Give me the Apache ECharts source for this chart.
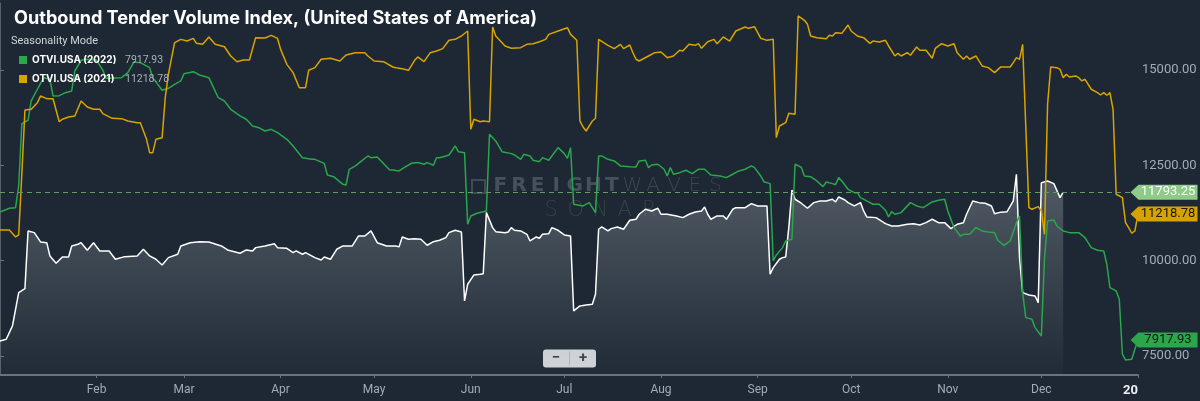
<!DOCTYPE html>
<html><head><meta charset="utf-8">
<script src="https://cdn.jsdelivr.net/npm/echarts@6/dist/echarts.min.js"></script>
<style>html,body{margin:0;padding:0;background:#1d2834;}#c{width:1200px;height:401px;}</style>
</head><body><div id="c"></div>
<script>
// ---- data (x = day of year, 0 = Jan 1; 365 = Jan 1 of next year) ----
const monthTicks = [31, 59, 90, 120, 151, 181, 212, 243, 273, 304, 334, 365];
const monthLabels = ['Feb', 'Mar', 'Apr', 'May', 'Jun', 'Jul', 'Aug', 'Sep', 'Oct', 'Nov', 'Dec', '20'];
const yTicks = [7500, 10000, 12500, 15000];

const nameCurrent = 'OTVI.USA';
const name2022 = 'OTVI.USA (2022)';
const name2021 = 'OTVI.USA (2021)';
const lastCurrent = 11793.25;
const last2022 = 7917.93;
const last2021 = 11218.78;

const current = [[0,7893],[2,7938],[4,8287],[6,9160],[8,9265],[9,10778],[11,10733],[13,10490],[15,10470],[16,10122],[18,9930],[20,10096],[22,10096],[23,10384],[25,10428],[26,10470],[28,10271],[30,10470],[32,10253],[35,10253],[37,10035],[40,10104],[44,10122],[46,10297],[48,10122],[50,10035],[52,9886],[54,10078],[57,10166],[58,10384],[61,10470],[64,10497],[67,10490],[71,10384],[73,10280],[77,10193],[79,10280],[81,10253],[82,10340],[85,10384],[88,10444],[89,10340],[92,10323],[94,10210],[95,10253],[97,10166],[98,10210],[101,10078],[103,10017],[104,10096],[106,10035],[108,10297],[110,10384],[113,10384],[115,10646],[117,10646],[119,10778],[121,10470],[124,10384],[127,10384],[128,10360],[129,10620],[131,10560],[133,10576],[135,10560],[137,10402],[139,10497],[141,10534],[143,10602],[144,10733],[146,10795],[148,10751],[149,8942],[150,9380],[152,9624],[154,9642],[155,9658],[156,11258],[158,10865],[159,10759],[162,10733],[163,10751],[164,10865],[165,10795],[167,10778],[169,10690],[170,10515],[172,10620],[173,10585],[174,10690],[176,10707],[177,10865],[179,10795],[181,10673],[183,10646],[184,8680],[186,8811],[188,8837],[190,8855],[191,9118],[192,10822],[193,10882],[195,10778],[196,10838],[198,10882],[200,10822],[202,11058],[204,11084],[205,11215],[207,11346],[209,11302],[211,11373],[212,11215],[214,11215],[217,11171],[219,11127],[221,11215],[223,11276],[225,11302],[226,11407],[227,11215],[228,11084],[230,11171],[232,11171],[233,11084],[235,11346],[236,11389],[239,11389],[241,11494],[243,11433],[246,11433],[247,9642],[248,9816],[250,10035],[251,10078],[252,10096],[253,10865],[254,11852],[255,11609],[257,11505],[259,11373],[261,11520],[263,11564],[265,11564],[267,11609],[268,11538],[269,11669],[271,11590],[272,11520],[274,11433],[276,11520],[277,11302],[278,11145],[281,11127],[284,10969],[286,10908],[288,10908],[291,10953],[293,10969],[295,10935],[297,10995],[299,11084],[301,10995],[303,10995],[305,10838],[307,10953],[309,10995],[310,11215],[312,11564],[314,11520],[316,11503],[318,11433],[319,11231],[321,11271],[323,11284],[325,11564],[326,12264],[327,10078],[328,9160],[330,9099],[332,9073],[333,8898],[334,12044],[336,12089],[338,12018],[340,11651],[341,11793.25]];

const otvi2022 = [[0,11276],[3,11373],[5,11389],[6,11957],[7,13591],[9,13680],[10,14186],[12,14493],[14,14797],[16,14755],[17,14317],[19,14325],[21,14404],[23,14448],[24,14972],[26,15253],[28,15280],[31,15253],[33,14991],[34,14781],[39,14797],[41,14930],[43,15209],[45,15191],[48,15060],[49,14797],[52,14466],[54,14519],[56,14623],[58,14711],[59,14902],[62,14955],[64,14868],[67,14797],[70,14272],[72,14186],[74,13968],[77,13793],[79,13706],[81,13530],[83,13486],[85,13399],[87,13443],[89,13355],[92,13180],[94,13006],[97,12699],[100,12656],[101,12656],[104,12551],[105,12246],[107,12201],[110,12001],[111,11983],[112,12394],[114,12482],[116,12613],[118,12744],[119,12699],[121,12717],[125,12377],[126,12377],[128,12351],[130,12456],[132,12553],[134,12570],[136,12527],[137,12570],[139,12500],[140,12699],[141,12699],[143,12744],[144,12770],[146,13006],[147,12856],[149,12831],[150,10953],[151,11171],[153,11242],[156,11302],[157,13313],[159,13137],[161,12856],[164,12805],[165,12770],[167,12656],[168,12787],[170,12744],[171,12630],[173,12595],[174,12699],[176,12630],[177,12744],[179,12962],[181,12805],[182,12682],[183,12962],[184,11478],[187,11433],[189,11520],[191,11258],[192,12744],[193,12744],[195,12656],[197,12613],[199,12482],[202,12464],[204,12456],[205,12613],[207,12630],[208,12438],[209,12508],[211,12527],[213,12395],[214,12220],[215,12438],[216,12264],[218,12306],[220,12369],[222,12281],[224,12395],[226,12395],[228,12246],[231,12220],[233,12176],[235,12264],[237,12351],[239,12395],[241,12482],[242,12438],[244,12220],[245,12070],[247,12018],[248,9991],[249,10148],[251,10340],[252,10515],[254,10560],[255,12527],[257,12447],[258,12220],[260,12201],[262,12089],[264,11939],[265,12062],[267,12018],[268,11991],[269,12176],[270,12089],[272,11870],[274,11782],[275,11782],[276,11651],[278,11564],[280,11478],[282,11478],[284,11320],[285,11145],[286,11284],[287,11215],[289,11258],[292,11520],[294,11433],[296,11389],[297,11433],[299,11538],[301,11582],[303,11609],[304,11302],[306,10865],[308,10646],[309,10690],[311,10690],[313,10865],[315,10778],[317,10751],[319,10733],[320,10534],[322,10400],[324,10515],[326,10995],[327,11171],[328,9160],[329,8504],[331,8462],[332,8242],[334,8024],[335,10035],[336,11040],[338,11066],[339,10908],[341,10778],[343,10733],[346,10733],[348,10602],[350,10340],[352,10271],[354,10253],[355,9904],[356,9291],[358,9204],[359,8987],[360,7544],[361,7395],[363,7413],[364,7675],[365,7917.93]];

const otvi2021 = [[0,10804],[3,10804],[5,10620],[6,10673],[7,12264],[8,13950],[10,13968],[12,14142],[13,14317],[15,14246],[17,14246],[19,13643],[20,13706],[22,13767],[24,13793],[26,14186],[28,14029],[30,13968],[32,13968],[33,13853],[36,13731],[39,13723],[41,13662],[44,13617],[45,13617],[47,13180],[48,12831],[49,12831],[50,13180],[52,13224],[53,14272],[54,14885],[56,15715],[58,15802],[60,15758],[62,15829],[63,15697],[65,15671],[67,15864],[69,15671],[72,15609],[74,15366],[76,15216],[78,15261],[80,15261],[82,15846],[85,15837],[87,15907],[89,15829],[90,15540],[92,15147],[94,14930],[96,14535],[98,14535],[99,14991],[101,15060],[103,15280],[106,15305],[109,15235],[111,15392],[114,15452],[117,15452],[118,15366],[120,15235],[123,15216],[126,15077],[127,15060],[129,15033],[131,14991],[133,15253],[134,15340],[136,15216],[138,15452],[140,15497],[142,15558],[144,15778],[146,15802],[148,15890],[150,16021],[151,13443],[152,13706],[154,13643],[155,13662],[157,13643],[158,16126],[159,15890],[162,15628],[164,15567],[167,15584],[169,15671],[171,15688],[173,15741],[175,15802],[176,15933],[179,16021],[182,16108],[183,15933],[185,15778],[186,13662],[187,13504],[188,13399],[190,13662],[191,13732],[192,15802],[195,15645],[197,15558],[199,15671],[200,15558],[202,15654],[203,15452],[204,15280],[205,15235],[208,15366],[210,15452],[212,15471],[214,15322],[216,15366],[218,15516],[219,15497],[221,15671],[223,15645],[224,15688],[225,15567],[227,15741],[229,15802],[230,15688],[232,15864],[234,15758],[236,16021],[239,16126],[240,16091],[242,16135],[244,15829],[246,15776],[248,15802],[249,13224],[250,13530],[252,13617],[253,13862],[255,13836],[256,16415],[258,16301],[259,16196],[260,15890],[262,15846],[265,15820],[266,15907],[267,15890],[268,15977],[270,15960],[272,16179],[273,16021],[275,15890],[277,15846],[279,15697],[280,15758],[282,15732],[284,15776],[285,15628],[287,15366],[288,15435],[289,15366],[291,15452],[292,15384],[294,15602],[295,15516],[297,15516],[299,15305],[300,15567],[302,15688],[304,15628],[306,15688],[307,15452],[309,15280],[310,15366],[311,15280],[313,15366],[315,15104],[317,15060],[319,14930],[321,15080],[324,15077],[325,15191],[326,15322],[327,15278],[328,15671],[330,11389],[331,11346],[333,11416],[334,11302],[335,10690],[336,14100],[337,15077],[339,15060],[340,15016],[341,14797],[342,14885],[343,14815],[345,14842],[346,14797],[347,14711],[348,14755],[350,14493],[352,14404],[353,14343],[354,14404],[355,14335],[356,14404],[357,13968],[358,11740],[360,11651],[361,10995],[362,10865],[363,10717],[364,10778],[365,11218.78]];

// ---- styling ----
const BG = '#1d2834';
const C_CUR = '#ffffff', C_22 = '#2aa64b', C_21 = '#d9a400';
const AXIS = '#6a737d', LABEL = '#a3abb3';
const FONT = 'Roboto, "Noto Sans", sans-serif';
const TFONT = 'Inter, Roboto, sans-serif';
const WFONT = '"DejaVu Sans", sans-serif';

function tag(value, bg, fg) {
  return {
    coord: [365, value], value: value.toFixed(2),
    symbol: 'path://M0,8L8,0L67,0L67,16L8,16Z', symbolSize: [67, 15], symbolOffset: [26, 0],
    itemStyle: { color: bg },
    label: { show: true, formatter: '{c}', color: fg, fontSize: 13, fontFamily: FONT, offset: [4, 0] }
  };
}

function spread(text, x0, step, y, font, fill) {
  return text.split('').map((ch, i) => ({
    type: 'text', x: x0 + step / 2 + i * step, y: y, silent: true, z: 1,
    style: { text: ch, font: font, fill: fill, textAlign: 'center', textVerticalAlign: 'middle' }
  }));
}

const chart = echarts.init(document.getElementById('c'), null, { renderer: 'canvas' });
chart.setOption({
  backgroundColor: BG,
  animation: false,
  textStyle: { fontFamily: FONT },
  title: {
    text: 'Outbound Tender Volume Index, (United States of America)',
    left: 9, top: 5,
    textStyle: { color: '#ffffff', fontSize: 18.1, fontWeight: 'bold', fontFamily: TFONT }
  },
  legend: {
    data: [name2022, name2021], left: 14, top: 49, orient: 'vertical',
    icon: 'rect', itemWidth: 8, itemHeight: 8, itemGap: 7, selectedMode: false,
    formatter: n => '{n|' + n + '}{v|' + (n === name2022 ? last2022 : last2021).toFixed(2) + '}',
    textStyle: {
      color: '#fff', fontSize: 10, lineHeight: 12,
      rich: {
        n: { width: 93, color: '#ffffff', fontWeight: 'bold', fontSize: 10, fontFamily: TFONT },
        v: { color: '#a9b0b8', fontSize: 10.5, fontFamily: FONT }
      }
    }
  },
  graphic: [
    { type: 'text', left: 11, top: 36, silent: true,
      style: { text: 'Seasonality Mode', fill: '#cfd4d9', font: '11px ' + FONT } },
    ...spread('FREIGHT', 491, 18.6, 186, 'bold 20px ' + WFONT, 'rgba(165,175,185,0.3)'),
    ...spread('WAVES', 622, 20.8, 186, '200 20px ' + WFONT, 'rgba(165,175,185,0.22)'),
    ...spread('SONAR', 539, 24.5, 211, '200 21px ' + WFONT, 'rgba(165,175,185,0.18)'),
    { type: 'rect', shape: { x: 472, y: 180, width: 13, height: 13 }, silent: true,
      style: { fill: 'none', stroke: 'rgba(165,175,185,0.25)', lineWidth: 2 } },
    { type: 'group', left: 543, top: 349, z: 100, children: [
      { type: 'rect', shape: { x: 0, y: 0, width: 53, height: 18, r: 3 }, style: { fill: '#d2d5d9' } },
      { type: 'line', shape: { x1: 26.5, y1: 2, x2: 26.5, y2: 16 }, style: { stroke: '#b3b7bc', lineWidth: 1 } },
      { type: 'text', x: 13, y: 9, style: { text: '−', fill: '#3b4047', font: 'bold 15px ' + FONT, textAlign: 'center', textVerticalAlign: 'middle' } },
      { type: 'text', x: 40, y: 9, style: { text: '+', fill: '#3b4047', font: 'bold 15px ' + FONT, textAlign: 'center', textVerticalAlign: 'middle' } }
    ] }
  ],
  grid: { left: 0, right: 62, top: 3.2, bottom: 26, containLabel: false },
  xAxis: {
    type: 'value', min: 0, max: 365,
    axisLine: { show: true, lineStyle: { color: AXIS, width: 2 } },
    axisTick: { show: true, customValues: monthTicks, length: 3, lineStyle: { color: AXIS } },
    splitLine: { show: false },
    axisLabel: {
      customValues: monthTicks, margin: 9, color: LABEL, fontSize: 12, fontFamily: FONT,
      alignMaxLabel: 'right',
      formatter: v => {
        const i = monthTicks.indexOf(Math.round(v));
        if (i < 0) return '';
        return i === monthTicks.length - 1 ? '{y|' + monthLabels[i] + '}' : monthLabels[i];
      },
      rich: { y: { color: '#eef1f3', fontWeight: 'bold', fontSize: 13, fontFamily: FONT } }
    }
  },
  yAxis: {
    type: 'value', position: 'right', min: 7000, max: 16750,
    axisLine: { show: true, lineStyle: { color: AXIS, width: 1.5 } },
    axisTick: { show: true, customValues: yTicks, length: 4, lineStyle: { color: AXIS } },
    splitLine: { show: false },
    axisLabel: {
      customValues: yTicks, margin: 4, color: LABEL, fontSize: 13, fontFamily: FONT,
      formatter: v => v.toFixed(2)
    }
  },
  series: [
    {
      name: nameCurrent, type: 'line', data: current, showSymbol: false, z: 2,
      lineStyle: { color: C_CUR, width: 1.5 }, itemStyle: { color: C_CUR },
      areaStyle: {
        origin: 'start',
        color: new echarts.graphic.LinearGradient(0, 0, 0, 1, [
          { offset: 0, color: 'rgba(150,157,165,0.62)' },
          { offset: 1, color: 'rgba(150,157,165,0.04)' }
        ])
      },
      markLine: {
        silent: true, symbol: ['none', 'none'], label: { show: false },
        lineStyle: { color: '#5f9d5c', type: [5, 4], width: 1 },
        data: [{ yAxis: lastCurrent }]
      },
      markPoint: { silent: true, z: 10, data: [tag(lastCurrent, '#8dcb86', '#ffffff')] }
    },
    {
      name: name2022, type: 'line', data: otvi2022, showSymbol: false, z: 3,
      lineStyle: { color: C_22, width: 1.5 }, itemStyle: { color: C_22 },
      markPoint: { silent: true, z: 10, data: [tag(last2022, '#2aa64b', '#0f1a12')] }
    },
    {
      name: name2021, type: 'line', data: otvi2021, showSymbol: false, z: 3,
      lineStyle: { color: C_21, width: 1.5 }, itemStyle: { color: C_21 },
      markPoint: { silent: true, z: 10, data: [tag(last2021, '#d6a200', '#1a1608')] }
    }
  ]
});
</script>
</body></html>
